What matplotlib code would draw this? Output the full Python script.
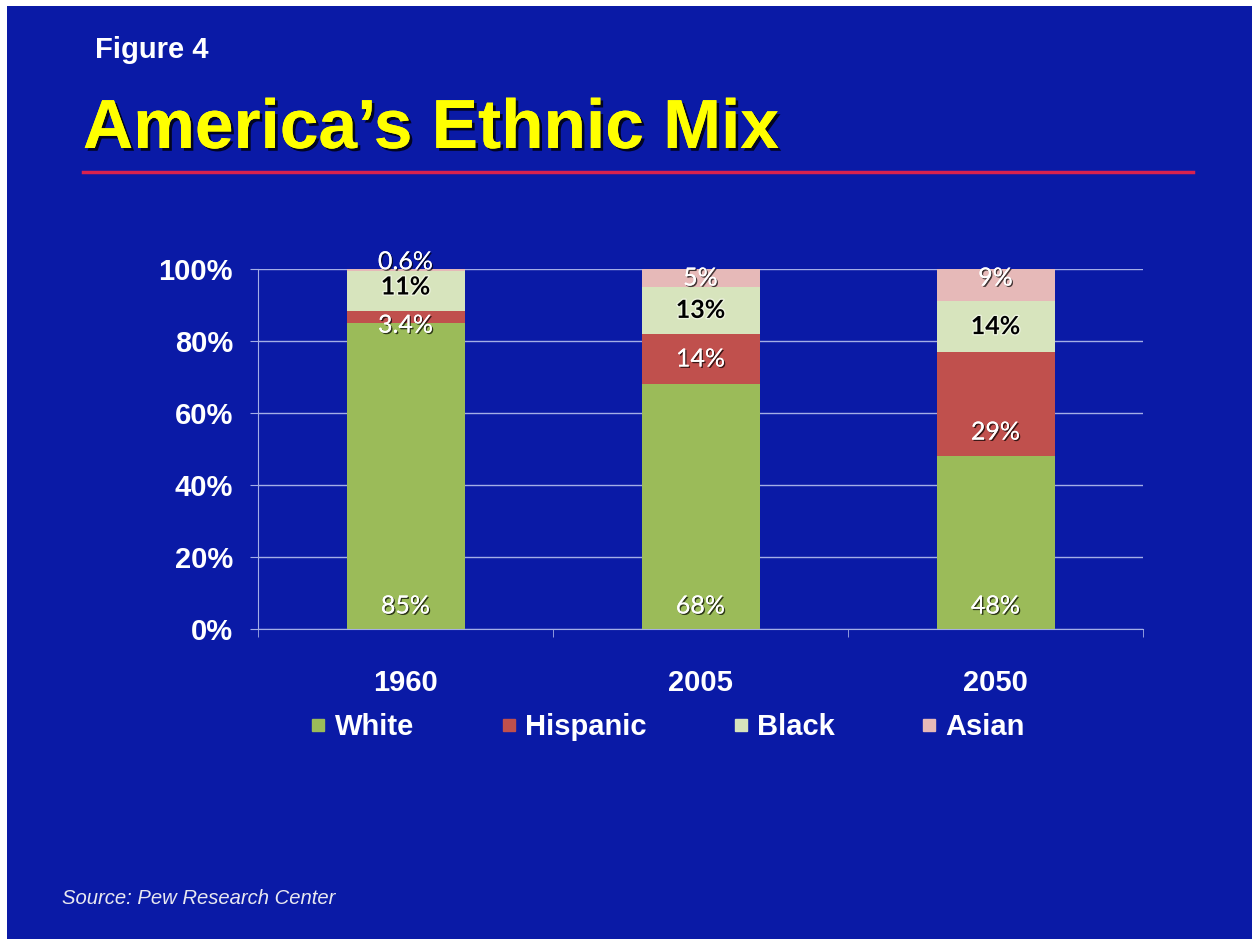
import numpy as np
import matplotlib.pyplot as plt
import matplotlib.patheffects as pe
from matplotlib.lines import Line2D

# data
years = ['1960', '2005', '2050']
groups = ['White', 'Hispanic', 'Black', 'Asian']
white = [85, 68, 48]
hispanic = [3.4, 14, 29]
black = [11, 13, 14]
asian = [0.6, 5, 9]
labels = {
    'White': ['85%', '68%', '48%'],
    'Hispanic': ['3.4%', '14%', '29%'],
    'Black': ['11%', '13%', '14%'],
    'Asian': ['0.6%', '5%', '9%'],
}

colors = {'White': '#9bbb59', 'Hispanic': '#c0504d', 'Black': '#d7e4bd', 'Asian': '#e6b9b8'}
bg = '#0a1aa6'
grid_c = '#a4aee6'

fig = plt.figure(figsize=(12.52, 9.39), dpi=100)
fig.patch.set_facecolor('white')

# blue slide background
fig.patches.append(plt.Rectangle((7 / 1252, 0), 1, 1 - 6 / 939, transform=fig.transFigure,
                                 facecolor=bg, edgecolor='none', zorder=-10))

fig.text(95 / 1252, 1 - 50 / 939, 'Figure 4', color='white', fontsize=21, fontweight='bold',
         family='Liberation Sans', va='center', ha='left')
fig.text(83 / 1252, 1 - 130 / 939, 'America\u2019s Ethnic Mix', color='#ffff00', fontsize=50,
         fontweight='bold', family='Liberation Sans', va='center', ha='left',
         path_effects=[pe.withSimplePatchShadow(offset=(2, -2), shadow_rgbFace='black', alpha=0.8),
                       pe.Normal()])
fig.add_artist(Line2D([83 / 1252, 1193 / 1252], [1 - 172 / 939, 1 - 172 / 939],
                      transform=fig.transFigure, color='#d8224e', lw=2.5))
fig.text(62 / 1252, 1 - 898 / 939, 'Source: Pew Research Center', color='#e8e8f0', fontsize=14.6,
         style='italic', family='Liberation Sans', va='center', ha='left')

ax = fig.add_axes([258 / 1252, 1 - 629 / 939, (1143 - 258) / 1252, 360 / 939])
ax.set_facecolor('none')

x = np.arange(len(years))
w = 0.4
series = [white, hispanic, black, asian]
bottom = np.zeros(len(years))
for name, vals in zip(groups, series):
    vals = np.array(vals)
    ax.bar(x, vals, w, bottom=bottom, color=colors[name], edgecolor='none', zorder=3, label=name)
    for i in range(len(years)):
        txt = labels[name][i]
        if name == 'White':
            yy = 6.4
        elif name == 'Asian' and i == 0:
            yy = 102
        elif name == 'Hispanic' and i == 0:
            yy = 84.4
        elif name == 'Black' and i == 0:
            yy = 95
        elif name == 'Asian' and i == 2:
            yy = 97.5
        elif name == 'Hispanic' and i == 2:
            yy = 54.7
        else:
            yy = bottom[i] + vals[i] / 2
        if name == 'Black':
            ax.text(x[i], yy, txt, ha='center', va='center', fontsize=18, fontweight='bold',
                    family='Lato', color='black', zorder=5,
                    path_effects=[pe.withStroke(linewidth=2, foreground='#eef4e0')])
        else:
            ax.text(x[i], yy, txt, ha='center', va='center', fontsize=18,
                    family='Lato', color='white', zorder=5,
                    path_effects=[pe.withSimplePatchShadow(offset=(1, -1), shadow_rgbFace='black', alpha=0.7),
                                  pe.Normal()])
    bottom = bottom + vals

ax.set_xlim(-0.5, 2.5)
ax.set_ylim(0, 100)
ax.set_yticks(np.arange(0, 101, 20))
ax.set_yticklabels([f'{v}%' for v in range(0, 101, 20)])
ax.yaxis.grid(True, color=grid_c, lw=1, zorder=0)
ax.set_xticks(x)
ax.set_xticklabels(years)
ax.set_xticks([-0.5, 0.5, 1.5, 2.5], minor=True)
ax.tick_params(axis='x', which='major', length=0, pad=29)
ax.tick_params(axis='x', which='minor', length=6, color=grid_c, direction='out')
ax.tick_params(axis='y', length=6, color=grid_c, pad=12)
for lab in ax.get_xticklabels() + ax.get_yticklabels():
    lab.set_color('white')
    lab.set_fontsize(21)
    lab.set_fontweight('bold')
    lab.set_family('Liberation Sans')
for s in ['top', 'right']:
    ax.spines[s].set_visible(False)
ax.spines['left'].set_color(grid_c)
ax.spines['bottom'].set_color(grid_c)

handles = [Line2D([], [], marker='s', ls='none', markersize=8, color=colors[g]) for g in groups]
leg = fig.legend(handles, groups, loc='center', bbox_to_anchor=(668 / 1252, 1 - 727 / 939), ncol=4,
                 frameon=False, handlelength=0.5, handletextpad=0.3, columnspacing=3.0,
                 prop={'family': 'Liberation Sans', 'weight': 'bold', 'size': 21})
for t in leg.get_texts():
    t.set_color('white')

fig.savefig('out.png', dpi=100)
